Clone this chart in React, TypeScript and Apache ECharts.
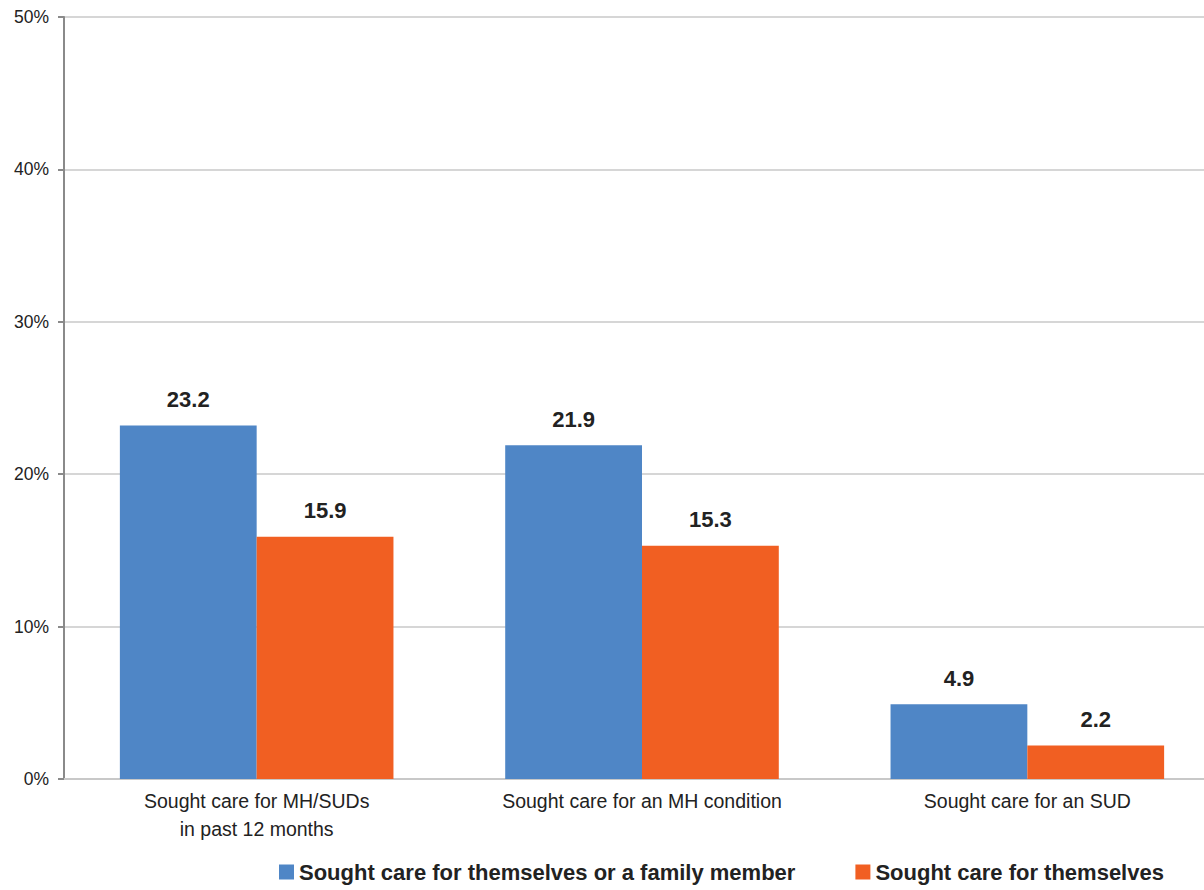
import React, { useEffect, useRef } from "react";
import * as echarts from "echarts";

const categories = ["Sought care for MH/SUDs\nin past 12 months", "Sought care for an MH condition", "Sought care for an SUD"];
const seriesNames = ["Sought care for themselves or a family member", "Sought care for themselves"];
const familyValues = [23.2, 21.9, 4.9];
const selfValues = [15.9, 15.3, 2.2];
const colors = ["#4f86c6", "#f15f22"];

export default function App() {
  const ref = useRef<HTMLDivElement>(null);
  useEffect(() => {
    const chart = echarts.init(ref.current!, null, { renderer: "svg" });
    const label = {
      show: true,
      position: "top",
      distance: 15,
      fontFamily: "Liberation Sans, Arial, sans-serif",
      fontWeight: "bold",
      fontSize: 22,
      color: "#222",
      formatter: (p: any) => p.value.toFixed(1),
    };
    chart.setOption({
      animation: false,
      color: colors,
      grid: { left: 64, right: 0, top: 17, bottom: 111, containLabel: false },
      legend: {
        bottom: 2,
        left: 274,
        itemWidth: 15,
        itemHeight: 15,
        itemGap: 60,
        icon: "rect",
        textStyle: {
          fontFamily: "Liberation Sans, Arial, sans-serif",
          fontWeight: "bold",
          fontSize: 22,
          color: "#222",
        },
        data: seriesNames,
      },
      xAxis: {
        type: "category",
        data: categories,
        axisLine: { lineStyle: { color: "#c8c8c8", width: 2 } },
        axisTick: { show: false },
        axisLabel: {
          fontFamily: "Liberation Sans, Arial, sans-serif",
          fontSize: 19.5,
          color: "#222",
          margin: 8,
          lineHeight: 28,
        },
      },
      yAxis: {
        type: "value",
        min: 0,
        max: 50,
        interval: 10,
        axisLine: { show: true, lineStyle: { color: "#8a8a8a", width: 2 } },
        axisTick: { show: true, length: 6, lineStyle: { color: "#8a8a8a", width: 2 } },
        splitLine: { lineStyle: { color: "#c8c8c8", width: 1.5 } },
        axisLabel: {
          formatter: "{value}%",
          fontFamily: "Liberation Sans, Arial, sans-serif",
          fontSize: 17.5,
          color: "#222",
          margin: 15,
        },
      },
      series: [
        {
          name: seriesNames[0],
          type: "bar",
          data: familyValues,
          barGap: "0%",
          barCategoryGap: "29%",
          label,
        },
        {
          name: seriesNames[1],
          type: "bar",
          data: selfValues,
          barGap: "0%",
          barCategoryGap: "29%",
          label,
        },
      ],
    });
    return () => chart.dispose();
  }, []);
  return (
    <div style={{ position: "fixed", left: 0, top: 0, width: 1204, height: 890, overflow: "hidden", background: "#fff" }}>
      <div ref={ref} style={{ width: 1220, height: 890 }} />
    </div>
  );
}
